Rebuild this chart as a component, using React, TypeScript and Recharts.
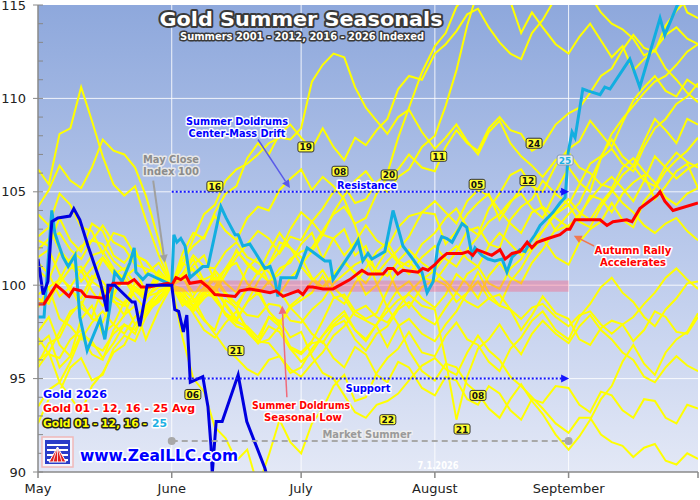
import React from 'react';
import {
  LineChart,
  Line,
  XAxis,
  YAxis,
  CartesianGrid,
  ReferenceLine,
  ReferenceArea,
  ReferenceDot,
} from 'recharts';

const FONT = '"DejaVu Sans", Verdana, sans-serif';

// season day counted from May 1 (June 1 = 31, Oct 1 = 153)
const MONTH_TICKS = [0, 31, 61, 92, 123, 153];
const MONTH_LABELS = ['May', 'June', 'July', 'August', 'September', ''];
const Y_TICKS = [90, 91, 92, 93, 94, 95, 96, 97, 98, 99, 100, 101, 102, 103, 104, 105, 106, 107, 108, 109, 110, 111, 112, 113, 114, 115];

// yellow years, sampled every couple of days
const DAYS = [0, 2.5, 5, 7.5, 10, 12.5, 15, 17.5, 20, 22.5, 25, 28, 31, 33.5, 36, 38.5, 41, 43.5, 46, 48.5, 51, 53.5, 56, 58.5, 61, 63.5, 66, 68.5, 71, 73.5, 76, 78.5, 81, 83.5, 86, 89, 92, 94.5, 97, 99.5, 102, 104.5, 107, 109.5, 112, 114.5, 117, 120, 123, 125.5, 128, 130.5, 133, 135.5, 138, 140.5, 143, 145.5, 148, 150.5, 153];
const Y01 = [97.5, 98.3, 96.8, 96.2, 98.2, 98.9, 97.4, 97.9, 99.1, 97.9, 98.6, 99.7, 100, 100.6, 99.2, 99.5, 100.8, 100.1, 99.6, 100.9, 101.5, 100.1, 100.9, 101.2, 102.2, 102.8, 101.4, 102.5, 103.0, 101.6, 102.1, 100.6, 101.3, 101.9, 102.6, 103.9, 103.8, 102.2, 102.9, 103.8, 104.4, 104.9, 103.5, 104.4, 105.2, 105.6, 104.1, 102.9, 103.2, 103.6, 104.8, 104.6, 103.9, 104.9, 105.5, 105.9, 104.6, 105.3, 106.1, 106.5, 105.2];
const Y02 = [102.4, 102.1, 103.6, 102.4, 101.8, 103.3, 102.9, 101.6, 101.2, 101.9, 100.6, 101.2, 100, 99.7, 98.9, 98.1, 97.6, 99.2, 98.8, 97.5, 96.9, 98.3, 97.8, 96.7, 96.4, 97.0, 98.1, 99.3, 99.5, 98.6, 98.2, 98.5, 99.7, 100.9, 101.3, 100.4, 100.2, 101.0, 101.8, 102.9, 103.1, 102.2, 102.0, 103.5, 104.2, 104.6, 105.6, 104.9, 104.3, 105.4, 106.5, 106.9, 107.8, 106.9, 106.4, 107.7, 108.9, 108.3, 107.6, 108.9, 108.6];
const Y03 = [95.6, 96.4, 94.8, 95.9, 97.3, 96.3, 96.0, 97.6, 98.4, 98.9, 97.1, 98.7, 100, 100.5, 101.4, 100.2, 99.8, 100.6, 101.9, 101.1, 100.6, 101.8, 102.8, 102.0, 101.5, 100.4, 99.9, 100.6, 101.2, 100.7, 99.5, 100.0, 100.9, 99.6, 98.8, 99.9, 100.3, 100.0, 99.1, 99.6, 100.7, 99.6, 98.9, 98.7, 97.6, 98.4, 99.4, 98.5, 98.2, 97.1, 96.8, 97.7, 98.1, 97.9, 97.0, 97.6, 98.6, 98.3, 97.5, 97.4, 98.3];
const Y04 = [103.8, 103.2, 104.9, 104.3, 103.1, 102.9, 101.7, 102.8, 102.6, 101.6, 101.3, 100.4, 100, 98.9, 99.4, 100.3, 100.6, 99.5, 98.7, 99.9, 99.8, 98.6, 97.9, 98.8, 99.2, 99.6, 100.5, 99.4, 99.0, 100.1, 100.9, 101.8, 102.3, 101.3, 101.0, 102.2, 102.8, 103.6, 104.1, 103.1, 102.7, 104.1, 104.9, 105.9, 106.2, 105.3, 105.0, 106.4, 107.3, 107.7, 108.8, 108.1, 107.4, 108.7, 109.9, 110.6, 111.2, 110.4, 110.1, 111.0, 110.6];
const Y05 = [99.3, 99.0, 100.4, 99.9, 98.8, 98.3, 99.9, 99.2, 98.4, 99.9, 99.5, 100.8, 100, 100.3, 101.1, 101.6, 100.2, 100.9, 101.8, 101.2, 100.7, 101.1, 102.3, 102.0, 101.1, 101.8, 102.7, 102.5, 101.6, 102.3, 103.2, 102.4, 102.0, 103.1, 103.7, 103.9, 104.5, 103.9, 103.3, 104.5, 105.1, 104.8, 104.0, 103.3, 102.8, 103.9, 104.2, 103.6, 103.1, 103.8, 104.6, 105.3, 105.8, 105.2, 104.5, 105.6, 106.9, 106.3, 105.7, 106.2, 106.5];
const Y06 = [106.2, 105.4, 108.1, 108.4, 110.6, 108.8, 106.9, 105.4, 104.8, 105.3, 103.5, 101.6, 100, 97.2, 95.0, 94.3, 92.4, 91.8, 90.6, 91.2, 89.2, 90.9, 92.8, 91.6, 91.0, 92.6, 93.4, 94.6, 95.2, 93.8, 94.0, 95.3, 96.1, 96.6, 97.5, 96.4, 96.2, 97.3, 98.0, 97.1, 96.8, 95.9, 95.4, 96.6, 97.2, 98.1, 98.6, 97.6, 97.1, 98.3, 99.0, 99.9, 100.4, 99.6, 99.1, 98.3, 97.8, 98.7, 99.3, 100.1, 100.2];
const Y07 = [92.6, 93.9, 94.3, 95.6, 96.1, 94.9, 95.2, 96.6, 97.3, 97.0, 98.3, 99.4, 100, 99.7, 98.8, 99.6, 99.9, 99.0, 98.2, 99.1, 99.6, 98.6, 98.0, 98.9, 99.4, 100.2, 100.8, 99.9, 99.3, 98.4, 98.1, 97.8, 96.7, 97.8, 98.2, 97.4, 97.0, 97.9, 98.6, 99.6, 100.2, 99.3, 98.9, 100.2, 100.9, 101.9, 102.5, 101.5, 101.1, 102.3, 103.0, 103.4, 104.4, 103.5, 103.1, 104.5, 105.2, 106.1, 106.7, 107.2, 107.9];
const Y08 = [101.2, 100.6, 99.4, 99.9, 100.8, 99.7, 98.9, 99.6, 100.3, 99.4, 98.7, 99.2, 100, 101.4, 102.1, 102.6, 103.7, 102.9, 102.4, 103.6, 104.2, 104.0, 105.1, 105.7, 106.2, 105.1, 105.8, 105.3, 104.6, 103.2, 101.5, 100.1, 98.8, 97.9, 96.5, 95.4, 94.9, 95.8, 95.6, 94.7, 94.2, 93.4, 92.9, 93.9, 94.7, 93.8, 93.1, 92.0, 91.2, 91.9, 92.8, 93.9, 94.6, 95.9, 96.8, 95.8, 95.2, 96.4, 97.1, 97.5, 98.5];
const Y09 = [96.8, 97.3, 95.6, 96.2, 97.4, 97.0, 96.1, 96.9, 97.9, 97.4, 98.8, 99.3, 100, 99.4, 98.5, 97.6, 97.2, 98.0, 98.6, 97.7, 96.9, 97.1, 97.8, 96.6, 95.9, 96.4, 97.3, 98.1, 98.6, 97.6, 97.1, 97.9, 98.9, 99.8, 100.2, 99.3, 98.8, 99.5, 100.6, 100.1, 99.3, 100.5, 101.2, 100.4, 100.1, 101.2, 101.9, 103.0, 103.8, 104.4, 105.6, 106.8, 107.3, 106.5, 106.1, 107.4, 108.4, 108.9, 109.7, 110.1, 110.8];
const Y10 = [95.8, 96.9, 97.2, 98.4, 99.1, 98.2, 98.0, 99.4, 100.6, 99.7, 99.2, 100.3, 100, 100.6, 101.6, 101.0, 100.9, 101.8, 102.3, 101.5, 101.2, 100.7, 99.7, 98.8, 98.2, 97.4, 96.9, 97.8, 98.1, 97.1, 96.5, 97.4, 97.8, 98.7, 99.1, 98.3, 97.9, 98.8, 99.6, 100.6, 101.0, 100.1, 99.8, 100.9, 101.4, 102.4, 102.9, 103.8, 104.3, 103.4, 103.1, 104.2, 105.0, 105.9, 106.4, 105.6, 105.3, 106.4, 107.1, 106.6, 106.3];
const Y11 = [99.5, 99.9, 98.2, 97.8, 97.1, 98.0, 98.6, 97.9, 97.4, 98.3, 98.9, 99.6, 100, 99.4, 98.6, 99.3, 99.8, 98.9, 98.1, 99.1, 100.2, 101.1, 101.8, 103.0, 103.9, 103.4, 102.7, 103.9, 104.8, 105.6, 106.1, 105.3, 105.0, 105.8, 106.2, 107.4, 108.0, 109.6, 111.5, 113.9, 115.8, 116.9, 118.0, 119.2, 120.5, 120.0, 121.0, 120.1, 119.0, 121.2, 123.0, 122.0, 121.0, 119.4, 118.0, 118.6, 117.5, 116.4, 116.0, 114.6, 114.3];
const Y12 = [104.2, 105.1, 106.4, 105.6, 105.2, 106.3, 107.8, 107.2, 107.0, 106.3, 104.8, 102.4, 100, 99.5, 99.1, 99.9, 100.4, 99.6, 99.0, 99.8, 100.7, 100.2, 99.5, 100.4, 101.0, 100.3, 99.8, 100.5, 101.3, 100.6, 100.1, 101.0, 101.9, 101.2, 100.6, 101.5, 102.1, 101.4, 101.0, 101.9, 102.6, 103.4, 103.8, 104.5, 104.9, 104.1, 103.6, 105.0, 106.3, 105.5, 105.0, 106.8, 108.1, 108.9, 109.6, 110.3, 110.9, 111.2, 111.8, 112.5, 112.9];
const Y16 = [93.5, 94.4, 94.8, 94.0, 93.2, 94.6, 95.3, 96.4, 96.8, 97.9, 98.4, 99.3, 100, 101.0, 102.5, 103.8, 104.3, 105.6, 106.2, 106.5, 107.0, 107.6, 107.9, 107.8, 108.4, 110.9, 111.8, 112.4, 112.2, 110.6, 109.5, 108.8, 108.1, 109.0, 109.4, 108.2, 107.3, 107.9, 108.6, 107.7, 107.0, 108.2, 108.8, 107.6, 106.9, 106.4, 105.8, 106.7, 107.1, 106.3, 106.0, 105.4, 105.2, 106.3, 106.8, 106.1, 105.5, 104.7, 104.3, 104.9, 105.2];
const Y17 = [100.8, 100.3, 101.7, 101.2, 100.2, 100.9, 101.5, 100.8, 100.4, 100.9, 99.6, 100.4, 100, 100.4, 100.9, 100.0, 99.2, 98.5, 98.1, 97.7, 97.0, 96.9, 96.2, 95.5, 95.1, 95.8, 96.4, 97.3, 97.8, 98.6, 98.9, 98.3, 98.0, 98.8, 99.6, 100.3, 100.8, 101.6, 102.1, 101.4, 101.0, 102.1, 102.8, 102.2, 101.6, 102.0, 102.9, 103.9, 104.6, 103.9, 103.5, 104.4, 105.1, 104.4, 103.9, 103.2, 102.8, 103.3, 103.6, 102.9, 102.4];
const Y18 = [101.9, 102.5, 102.8, 101.9, 101.4, 102.4, 102.2, 101.3, 100.8, 101.6, 101.3, 100.5, 100, 99.2, 98.9, 99.7, 99.5, 98.4, 97.8, 97.6, 96.9, 97.8, 97.5, 96.6, 96.3, 96.9, 97.0, 96.1, 95.6, 96.7, 96.3, 95.2, 94.8, 95.9, 95.6, 94.5, 94.1, 95.1, 94.9, 93.9, 93.6, 94.6, 94.2, 93.3, 92.8, 93.9, 93.7, 94.6, 94.5, 93.6, 93.2, 94.3, 94.1, 93.3, 92.9, 93.9, 93.8, 92.9, 92.6, 93.6, 93.4];
const Y19 = [97.2, 96.3, 96.1, 97.1, 97.6, 96.8, 96.5, 97.4, 97.9, 97.6, 98.6, 99.1, 100, 101.7, 102.8, 102.5, 103.9, 104.9, 105.3, 106.8, 107.6, 107.0, 108.1, 108.6, 107.9, 107.3, 108.4, 107.4, 106.7, 107.9, 107.5, 108.3, 108.9, 110.5, 111.2, 111.0, 112.4, 112.9, 113.6, 114.5, 114.8, 113.8, 113.0, 112.4, 112.1, 113.5, 114.2, 115.4, 116.2, 115.1, 115.5, 114.6, 114.0, 113.7, 113.2, 112.3, 112.6, 113.4, 113.8, 113.2, 112.9];
const Y20 = [102.6, 103.1, 101.9, 101.2, 100.7, 101.6, 101.8, 100.9, 100.3, 99.7, 99.4, 99.9, 100, 101.2, 100.8, 100.1, 99.6, 100.6, 101.5, 102.2, 102.9, 102.5, 101.7, 102.6, 102.4, 103.4, 104.1, 105.0, 105.3, 104.4, 104.6, 105.5, 106.0, 107.9, 109.5, 111.4, 112.8, 113.5, 114.9, 115.6, 116.5, 116.0, 117.0, 115.2, 113.5, 114.6, 113.8, 112.9, 112.4, 113.3, 114.0, 113.1, 112.2, 112.8, 111.5, 112.1, 112.6, 111.6, 111.0, 110.3, 109.8];
const Y21 = [96.0, 96.4, 97.5, 98.6, 98.9, 100.2, 101.4, 100.6, 100.9, 100.1, 99.6, 100.4, 100, 99.8, 99.3, 98.2, 97.4, 96.6, 96.1, 95.5, 95.2, 96.0, 96.2, 95.3, 95.6, 96.6, 97.3, 97.9, 98.4, 97.6, 97.0, 97.9, 98.6, 99.2, 99.5, 98.9, 98.7, 96.0, 92.8, 95.1, 96.6, 97.1, 97.9, 97.0, 96.3, 97.4, 98.1, 97.4, 96.9, 97.8, 98.4, 97.6, 97.1, 96.4, 96.0, 95.1, 94.8, 95.6, 96.2, 95.7, 95.4];
const Y22 = [101.5, 101.9, 100.6, 99.7, 99.3, 100.5, 100.2, 99.4, 99.0, 100.1, 99.7, 100.4, 100, 99.1, 98.6, 99.5, 99.4, 98.4, 98.0, 97.8, 97.2, 98.3, 98.1, 97.2, 97.5, 96.2, 95.3, 95.0, 94.1, 93.2, 92.9, 93.6, 93.8, 94.2, 94.9, 95.7, 96.1, 95.5, 95.2, 96.4, 97.3, 96.5, 96.0, 95.1, 94.6, 94.0, 93.4, 92.6, 92.1, 92.9, 92.9, 92.0, 91.6, 91.4, 90.8, 91.3, 91.5, 90.6, 90.4, 91.0, 90.7];
const Y23 = [99.0, 99.2, 100.1, 100.9, 101.0, 100.2, 99.8, 99.1, 98.9, 99.8, 99.4, 99.6, 100, 100.4, 99.6, 99.8, 100.3, 99.5, 99.0, 98.4, 98.3, 99.0, 98.9, 98.1, 98.0, 98.7, 99.2, 100.1, 100.6, 101.1, 101.4, 100.8, 100.5, 101.3, 101.9, 101.2, 100.7, 100.2, 99.6, 99.1, 98.8, 99.3, 99.5, 98.7, 98.2, 98.8, 99.0, 98.3, 97.8, 98.4, 98.6, 97.9, 97.4, 97.9, 98.3, 99.0, 99.6, 100.4, 100.9, 100.3, 99.8];
const Y24 = [98.8, 99.9, 100.3, 101.4, 102.1, 102.4, 103.2, 102.3, 102.0, 101.1, 100.9, 100.6, 100, 99.1, 98.7, 99.5, 99.9, 100.9, 101.2, 100.1, 99.5, 100.2, 100.6, 101.4, 101.8, 102.0, 102.9, 103.8, 104.2, 103.3, 103.6, 104.9, 105.8, 106.2, 107.0, 106.3, 106.1, 107.4, 108.3, 107.6, 107.2, 108.4, 109.0, 108.3, 108.1, 107.2, 107.5, 108.6, 109.2, 109.5, 110.3, 111.2, 111.6, 112.6, 113.4, 112.7, 112.5, 113.9, 114.7, 115.3, 115.6];

const YELLOW = [
  ['y01', Y01], ['y02', Y02], ['y03', Y03], ['y04', Y04], ['y05', Y05], ['y06', Y06], ['y07', Y07],
  ['y08', Y08], ['y09', Y09], ['y10', Y10], ['y11', Y11], ['y12', Y12], ['y16', Y16], ['y17', Y17],
  ['y18', Y18], ['y19', Y19], ['y20', Y20], ['y21', Y21], ['y22', Y22], ['y23', Y23], ['y24', Y24],
] as [string, number[]][];

// Gold 2026
const G26_DAYS = [0, 1.2, 2.3, 3.2, 4.6, 7.4, 8.3, 9.7, 11.6, 14.4, 16.0, 16.2, 17.8, 21.8, 22.5, 23.6, 25.3, 31, 31.7, 32.6, 33.7, 34.5, 35.3, 38.2, 39.4, 40.1, 40.4, 41.3, 42.7, 46.4, 48.4, 52.6, 53.3];
const G26_VALS = [101.4, 99.5, 100.2, 103.4, 103.6, 103.7, 104.1, 103.5, 102.1, 100.2, 98.6, 100.0, 100.0, 99.1, 99.1, 97.8, 100.0, 100.0, 98.7, 98.6, 97.5, 98.4, 94.8, 95.1, 93.5, 91.4, 89.9, 92.7, 92.7, 95.2, 92.7, 90.2, 89.6];

// Gold 2025
const G25_DAYS = [0, 1.4, 3.2, 3.9, 4.6, 5.8, 7.0, 8.6, 9.7, 11.4, 14.4, 15.5, 16.7, 17.8, 19.5, 21.3, 22.3, 22.7, 24.3, 25.5, 29.2, 31, 31.5, 32.2, 33.1, 34.1, 35.2, 38.2, 39.4, 42.4, 43.6, 45.7, 46.4, 47.5, 49.1, 50.5, 52.6, 53.8, 54.9, 55.6, 56.3, 59.8, 62.4, 64.2, 66.5, 67.7, 68.4, 73.0, 74.2, 75.3, 76.5, 77.4, 80.4, 82.3, 83.9, 84.6, 86.9, 89.0, 90.2, 91.6, 92.7, 93.6, 94.8, 96.0, 98.3, 99.4, 100.6, 101.3, 102.9, 104.3, 105.9, 107.6, 108.7, 109.9, 111.7, 112.9, 114.0, 115.2, 116.4, 119.4, 121.0, 122.2, 122.6, 122.9, 123.8, 124.5, 126.3, 127.5, 130.3, 131.4, 132.6, 137.2, 138.9, 139.5, 144.2, 145.3, 148.4, 151.6];
const G25_VALS = [98.3, 98.3, 104.0, 102.8, 102.3, 101.5, 101.0, 101.6, 98.3, 96.5, 98.2, 97.1, 98.9, 100.7, 100.2, 101.2, 102.0, 100.7, 100.3, 100.6, 100.2, 100.0, 102.7, 102.3, 102.5, 102.1, 100.4, 101.0, 101.0, 104.2, 103.6, 102.7, 102.7, 102.1, 102.2, 101.7, 100.9, 101.0, 100.3, 99.4, 100.4, 100.4, 102.0, 101.7, 101.3, 101.3, 100.3, 101.9, 102.4, 101.3, 101.7, 101.4, 101.8, 104.0, 102.7, 102.1, 101.4, 100.7, 99.6, 100.2, 102.1, 102.6, 102.5, 102.3, 103.3, 103.1, 101.6, 102.0, 101.6, 101.4, 101.3, 101.4, 100.7, 101.5, 101.9, 101.8, 102.3, 102.7, 103.2, 103.9, 104.4, 104.7, 105.9, 107.1, 108.2, 107.9, 110.5, 110.4, 110.2, 110.6, 110.5, 112.1, 111.0, 110.6, 114.3, 113.4, 115.1, 117.0];

// Gold 01-12, 16-25 average
const AVG_DAYS = [0, 1.4, 4.2, 5.8, 7.2, 8.3, 10.0, 11.1, 15.3, 15.8, 17.4, 19.7, 20.9, 22.3, 23.9, 25.7, 30.1, 31, 32.0, 33.1, 34.3, 35.2, 37.8, 39.4, 41.0, 45.7, 46.8, 49.1, 51.5, 53.8, 55.2, 56.8, 59.1, 60.3, 61.4, 62.6, 63.7, 66.1, 68.4, 72.3, 75.1, 76.5, 80.0, 81.1, 82.3, 83.4, 84.6, 88.1, 89.2, 90.4, 92.0, 93.2, 94.8, 98.3, 99.7, 100.8, 101.8, 105.2, 107.1, 108.3, 109.9, 111.7, 113.4, 114.5, 115.7, 118.2, 121.0, 122.6, 123.3, 124.5, 130.3, 131.9, 133.3, 136.5, 137.7, 139.5, 143.5, 144.2, 145.3, 147.2, 153];
const AVG_VALS = [99.0, 99.0, 100.0, 99.7, 99.4, 99.8, 99.7, 99.4, 99.3, 99.4, 100.1, 100.1, 100.1, 100.3, 99.9, 99.9, 100.1, 100.0, 100.4, 100.3, 100.5, 100.1, 100.2, 99.9, 99.5, 99.4, 99.7, 99.8, 99.7, 99.6, 99.7, 99.4, 99.6, 99.7, 99.5, 99.9, 99.9, 99.8, 99.8, 100.3, 100.8, 100.6, 100.6, 100.9, 100.9, 100.6, 100.8, 100.7, 100.9, 100.8, 101.1, 101.4, 101.7, 101.7, 101.8, 101.6, 101.9, 101.6, 101.9, 101.4, 101.7, 101.8, 102.3, 102.0, 102.3, 102.5, 102.7, 103.0, 103.0, 103.5, 103.5, 103.2, 103.4, 103.5, 103.4, 104.1, 104.8, 105.0, 104.5, 104.0, 104.4];

// year tags placed on the chart
const YEAR_TAGS = [
  { t: '16', d: 41.0, v: 105.3 }, { t: '19', d: 62.1, v: 107.4 }, { t: '08', d: 70.0, v: 106.1 },
  { t: '20', d: 81.4, v: 105.9 }, { t: '11', d: 92.9, v: 106.9 }, { t: '05', d: 101.8, v: 105.4 },
  { t: '24', d: 115.0, v: 107.6 }, { t: '12', d: 113.6, v: 105.6 }, { t: '21', d: 45.9, v: 96.5 },
  { t: '06', d: 35.9, v: 94.15 }, { t: '22', d: 81.1, v: 92.8 }, { t: '08', d: 102.0, v: 94.1 },
  { t: '21', d: 98.3, v: 92.3 },
];

const rows = DAYS.map((d, i) => {
  const r: Record<string, number> = { d };
  YELLOW.forEach(([k, vals]) => { r[k] = vals[i]; });
  return r;
});
const pairs = (days: number[], vals: number[]) => days.map((d, i) => ({ d, v: vals[i] }));
const g26 = pairs(G26_DAYS, G26_VALS);
const g25 = pairs(G25_DAYS, G25_VALS);
const avg = pairs(AVG_DAYS, AVG_VALS);

function arrowShape(color: string, width: number, dash?: string, head = true) {
  return (p: any) => {
    const { x1, y1, x2, y2 } = p;
    const a = Math.atan2(y2 - y1, x2 - x1);
    const L = 8, W = 4;
    const bx = x2 - L * Math.cos(a);
    const by = y2 - L * Math.sin(a);
    const pts = `${x2},${y2} ${bx + W * Math.sin(a)},${by - W * Math.cos(a)} ${bx - W * Math.sin(a)},${by + W * Math.cos(a)}`;
    return (
      <g>
        <line x1={x1} y1={y1} x2={head ? bx : x2} y2={head ? by : y2} stroke={color} strokeWidth={width} strokeDasharray={dash} />
        {head && <polygon points={pts} fill={color} />}
      </g>
    );
  };
}

const YTick = (props: any) => {
  const { x, y, payload } = props;
  const v = payload.value;
  const major = v % 5 === 0;
  return (
    <g>
      <line x1={major ? x - 5 : x} x2={x + 5} y1={y} y2={y} stroke="#888" strokeWidth={1} />
      {major && (
        <text x={x - 12} y={y} dy="0.36em" textAnchor="end" fontFamily={FONT} fontSize={13} fill="#222">
          {v}
        </text>
      )}
    </g>
  );
};

const tagShape = (t: string) => (p: any) => (
  <g>
    <rect x={p.cx - 8} y={p.cy - 5} width={16} height={10} rx={2} fill="#ffff33" stroke="#333" strokeWidth={1} />
    <text x={p.cx} y={p.cy + 3.5} textAnchor="middle" fontFamily={FONT} fontSize={9} fontWeight="bold" fill="#111">
      {t}
    </text>
  </g>
);

const tag25 = (p: any) => (
  <g>
    <rect x={p.cx - 8} y={p.cy - 5} width={16} height={10} rx={2} fill="#e4ecf6" stroke="#8a9ab0" strokeWidth={1} />
    <text x={p.cx} y={p.cy + 3.5} textAnchor="middle" fontFamily={FONT} fontSize={9} fontWeight="bold" fill="#1cb0e4">
      25
    </text>
  </g>
);

const endTriangle = (color: string) => (p: any) => (
  <polygon points={`${p.cx + 4},${p.cy} ${p.cx - 4},${p.cy - 4} ${p.cx - 4},${p.cy + 4}`} fill={color} />
);

function OText(props: any) {
  const { x, y, fill, stroke = '#fff', sw = 3, size = 11, anchor = 'middle', len, children } = props;
  return (
    <text
      x={x}
      y={y}
      fontFamily={FONT}
      fontWeight="bold"
      fontSize={size}
      fill={fill}
      stroke={stroke}
      strokeWidth={sw}
      strokeLinejoin="round"
      paintOrder="stroke"
      textAnchor={anchor}
      textLength={len}
      lengthAdjust="spacingAndGlyphs"
    >
      {children}
    </text>
  );
}

function Overlay() {
  return (
    <svg width={700} height={500} style={{ position: 'absolute', left: 0, top: 0, pointerEvents: 'none' }}>
      <OText x={301} y={26} size={20} fill="#fff" stroke="#3a3a3a" sw={4} len={283}>Gold Summer Seasonals</OText>
      <OText x={302} y={40} size={10} fill="#fff" stroke="#3a3a3a" sw={3} len={244}>Summers 2001 - 2012, 2016 - 2026 Indexed</OText>

      <OText x={237} y={125} fill="#0000ff" len={102}>Summer Doldrums</OText>
      <OText x={237} y={137} fill="#0000ff" len={97}>Center-Mass Drift</OText>

      <OText x={171} y={163} fill="#8c8c8c" stroke="#e8e8e8" len={56}>May Close</OText>
      <OText x={171} y={175} fill="#8c8c8c" stroke="#e8e8e8" len={56}>Index 100</OText>

      <OText x={367} y={189} fill="#0000ff" len={60}>Resistance</OText>
      <OText x={368} y={392} fill="#0000ff" len={45}>Support</OText>

      <OText x={633} y={254} fill="#ff0000" len={77}>Autumn Rally</OText>
      <OText x={633} y={266} fill="#ff0000" len={66}>Accelerates</OText>

      <OText x={301} y={409} fill="#ff0000" len={98}>Summer Doldrums</OText>
      <OText x={303} y={421} fill="#ff0000" len={78}>Seasonal Low</OText>

      <OText x={367} y={438} fill="#9a9a9a" stroke="#eeeeee" len={89}>Market Summer</OText>
      <OText x={438} y={469} size={10} fill="#ffffff" stroke="none" sw={0} len={41}>7.1.2026</OText>

      <OText x={43} y={398} anchor="start" fill="#0000ff" len={64}>Gold 2026</OText>
      <OText x={43} y={412} anchor="start" fill="#ff0000" len={152}>Gold 01 - 12, 16 - 25 Avg</OText>
      <OText x={43} y={427} anchor="start" fill="#ffff00" stroke="#222" len={104}>Gold 01 - 12, 16 -</OText>
      <OText x={152} y={427} anchor="start" fill="#1cb0e4" len={15}>25</OText>

      <g>
        <rect x={42} y={437} width={31} height={30} fill="#f2f4fc" stroke="#f0b8b8" strokeWidth={1.5} />
        <rect x={45} y={440} width={25} height={24} fill="#2a3cc8" />
        <rect x={47} y={444} width={21} height={2} fill="#fff" />
        <rect x={47} y={449} width={21} height={2} fill="#fff" />
        <rect x={47} y={454} width={21} height={2} fill="#fff" />
        <rect x={47} y={459} width={21} height={2} fill="#fff" />
        <path d="M49,462 L57.5,447 L66,462 Z" fill="#e02020" stroke="#fff" strokeWidth={1} />
        <line x1={57.5} y1={447} x2={53} y2={462} stroke="#fff" strokeWidth={0.8} />
        <line x1={57.5} y1={447} x2={57.5} y2={462} stroke="#fff" strokeWidth={0.8} />
        <line x1={57.5} y1={447} x2={62} y2={462} stroke="#fff" strokeWidth={0.8} />
      </g>
      <OText x={80} y={461} anchor="start" size={15} fill="#0000ff" stroke="#fff" sw={3} len={158}>www.ZealLLC.com</OText>
    </svg>
  );
}

export default function App() {
  return (
    <div style={{ position: 'absolute', left: 0, top: 0, width: 700, height: 500, background: '#fff' }}>
      <LineChart width={700} height={500} data={rows} margin={{ top: 5, right: 2, bottom: 0, left: 0 }}>
        <defs>
          <linearGradient id="bgGrad" x1="0" y1="0" x2="0" y2="1">
            <stop offset="0%" stopColor="#8ea8dc" />
            <stop offset="55%" stopColor="#bccbec" />
            <stop offset="100%" stopColor="#e3e8f6" />
          </linearGradient>
        </defs>
        <CartesianGrid
          fill="url(#bgGrad)"
          fillOpacity={1}
          stroke="#ffffff"
          strokeOpacity={0.85}
          horizontalValues={[95, 100, 105, 110]}
          verticalValues={[31, 61, 92, 123]}
        />
        <XAxis
          dataKey="d"
          type="number"
          domain={[0, 153]}
          ticks={MONTH_TICKS}
          interval={0}
          height={28}
          tickSize={6}
          tickMargin={6}
          tickFormatter={(v) => MONTH_LABELS[MONTH_TICKS.indexOf(v)] ?? ''}
          tick={{ fill: '#222', fontSize: 13, fontFamily: FONT }}
          axisLine={{ stroke: '#8a8a8a', strokeWidth: 1.5 }}
          tickLine={{ stroke: '#8a8a8a', strokeWidth: 1.5 }}
          allowDataOverflow
        />
        <YAxis
          type="number"
          domain={[90, 115]}
          ticks={Y_TICKS}
          interval={0}
          width={38}
          tickSize={0}
          tickMargin={0}
          tick={<YTick />}
          tickLine={false}
          axisLine={{ stroke: '#8a8a8a', strokeWidth: 1.5 }}
          allowDataOverflow
        />
        {YELLOW.map(([k]) => (
          <Line
            key={k}
            dataKey={k}
            type="linear"
            stroke="#ffff00"
            strokeWidth={2}
            dot={false}
            activeDot={false}
            isAnimationActive={false}
          />
        ))}
        <ReferenceArea x1={31} x2={123} y1={99.65} y2={100.25} fill="#ff5a7a" fillOpacity={0.38} stroke="none" zIndex={410} />
        <Line data={g25} dataKey="v" type="linear" stroke="#12aee0" strokeWidth={3} dot={false} activeDot={false} isAnimationActive={false} zIndex={420} />
        <Line data={avg} dataKey="v" type="linear" stroke="#ff0000" strokeWidth={3} dot={false} activeDot={false} isAnimationActive={false} zIndex={430} />
        <Line data={g26} dataKey="v" type="linear" stroke="#0000e0" strokeWidth={3} dot={false} activeDot={false} isAnimationActive={false} zIndex={440} />

        <ReferenceLine segment={[{ x: 31, y: 105 }, { x: 121.5, y: 105 }]} shape={arrowShape('#1414ff', 2, '2 2', false)} zIndex={450} />
        <ReferenceDot x={122.2} y={105} shape={endTriangle('#1414ff')} zIndex={455} />
        <ReferenceLine segment={[{ x: 31, y: 95 }, { x: 121.5, y: 95 }]} shape={arrowShape('#1414ff', 2, '2 2', false)} zIndex={450} />
        <ReferenceDot x={122.2} y={95} shape={endTriangle('#1414ff')} zIndex={455} />
        <ReferenceLine segment={[{ x: 31, y: 91.66 }, { x: 123, y: 91.66 }]} shape={arrowShape('#a8a8a8', 2, '6 4', false)} zIndex={450} />
        <ReferenceDot x={31} y={91.66} r={4} fill="#a8a8a8" stroke="none" zIndex={455} />
        <ReferenceDot x={123} y={91.66} r={4} fill="#a8a8a8" stroke="none" zIndex={455} />

        <ReferenceLine segment={[{ x: 51.0, y: 107.8 }, { x: 58.4, y: 105.2 }]} shape={arrowShape('#5a5ae8', 1.5)} zIndex={450} />
        <ReferenceLine segment={[{ x: 26.7, y: 105.6 }, { x: 29.4, y: 101.2 }]} shape={arrowShape('#a0a0a0', 2)} zIndex={450} />
        <ReferenceLine segment={[{ x: 57.7, y: 94.0 }, { x: 56.6, y: 98.9 }]} shape={arrowShape('#f06a7a', 1.5)} zIndex={450} />
        <ReferenceLine segment={[{ x: 128.9, y: 102.1 }, { x: 124.2, y: 102.65 }]} shape={arrowShape('#f07850', 1.5)} zIndex={450} />

        {YEAR_TAGS.map((g, i) => (
          <ReferenceDot key={i} x={g.d} y={g.v} shape={tagShape(g.t)} zIndex={470} />
        ))}
        <ReferenceDot x={122.2} y={106.7} shape={tag25} zIndex={470} />
      </LineChart>
      <Overlay />
    </div>
  );
}
